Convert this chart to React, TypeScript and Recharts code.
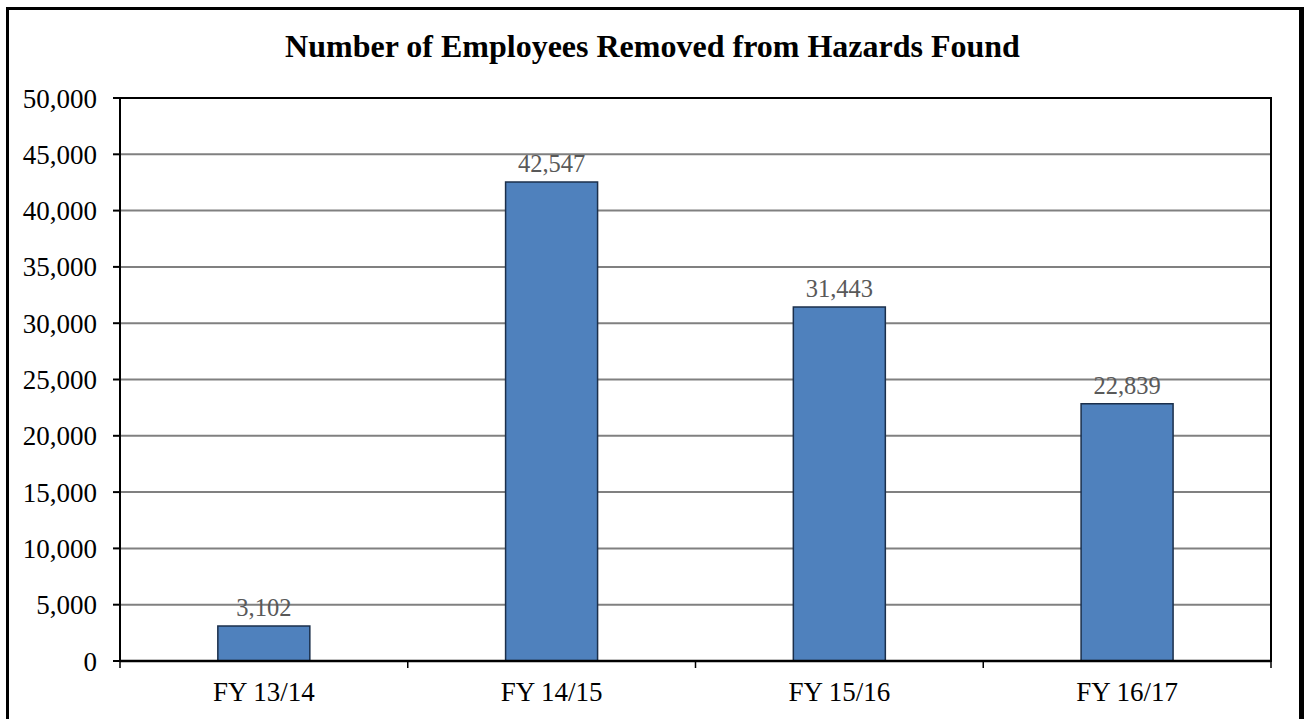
import { BarChart, Bar, XAxis, YAxis, CartesianGrid, LabelList, ReferenceArea } from 'recharts'

const categories = ['FY 13/14', 'FY 14/15', 'FY 15/16', 'FY 16/17']
const employeesRemoved = [3102, 42547, 31443, 22839]
const yTicks = [0, 5000, 10000, 15000, 20000, 25000, 30000, 35000, 40000, 45000, 50000]

const data = categories.map((name, i) => ({ name, removed: employeesRemoved[i] }))

const FONT = '"Liberation Serif", "Times New Roman", serif'
const TICK_SIZE = 7
const X_TICK_GAP = 14

// category labels plus Excel-style tick marks between the categories
function CategoryTick(props: any) {
  const { x, y, payload, index, visibleTicksCount } = props
  const half = payload?.offset ?? 0
  const axisY = y - TICK_SIZE - X_TICK_GAP
  const last = index === visibleTicksCount - 1
  return (
    <g>
      <line x1={x - half} x2={x - half} y1={axisY} y2={axisY + TICK_SIZE} stroke="#000" strokeWidth={1.5} />
      {last ? <line x1={x + half} x2={x + half} y1={axisY} y2={axisY + TICK_SIZE} stroke="#000" strokeWidth={1.5} /> : null}
      <text x={x} y={y} dy="0.71em" textAnchor="middle" fill="#000" fontSize={27} fontFamily={FONT}>
        {payload.value}
      </text>
    </g>
  )
}

export default function App() {
  return (
    <div style={{ position: 'fixed', left: 0, top: 0, width: 1305, height: 719, overflow: 'hidden', background: '#fff' }}>
      <div
        style={{
          position: 'absolute',
          left: 6,
          top: 7,
          width: 1298,
          height: 760,
          boxSizing: 'border-box',
          border: '3px solid #000',
          borderRightWidth: 5,
        }}
      />
      <div
        style={{
          position: 'absolute',
          left: 0,
          width: 1305,
          top: 30,
          textAlign: 'center',
          fontFamily: FONT,
          fontWeight: 'bold',
          fontSize: 32,
          lineHeight: '32px',
          color: '#000',
        }}
      >
        Number of Employees Removed from Hazards Found
      </div>
      <div style={{ position: 'absolute', left: 0, top: 0 }}>
        <BarChart width={1305} height={719} data={data} margin={{ top: 98, right: 34, left: 0, bottom: 0 }} barCategoryGap="34%">
          <CartesianGrid horizontal vertical={false} stroke="#808080" strokeWidth={2} />
          <XAxis
            dataKey="name"
            height={58}
            axisLine={{ stroke: '#000', strokeWidth: 2.5 }}
            tickLine={false}
            tickSize={TICK_SIZE}
            tickMargin={X_TICK_GAP}
            tick={<CategoryTick />}
            interval={0}
          />
          <YAxis
            width={120}
            domain={[0, 50000]}
            ticks={yTicks}
            interval={0}
            tickFormatter={(v: number) => v.toLocaleString('en-US')}
            axisLine={{ stroke: '#000', strokeWidth: 2 }}
            tickLine={{ stroke: '#000', strokeWidth: 2 }}
            tickSize={TICK_SIZE}
            tickMargin={16}
            tick={{ fill: '#000', fontSize: 27, fontFamily: FONT }}
          />
          <ReferenceArea y1={0} y2={50000} fill="none" stroke="#000" strokeWidth={2} ifOverflow="visible" />
          <Bar dataKey="removed" fill="#4F81BD" stroke="#1B2F4B" strokeWidth={1.5} isAnimationActive={false}>
            <LabelList
              dataKey="removed"
              position="top"
              offset={10}
              formatter={(v: any) => Number(v).toLocaleString('en-US')}
              fill="#595959"
              fontSize={24.5}
              fontFamily={FONT}
            />
          </Bar>
        </BarChart>
      </div>
    </div>
  )
}
